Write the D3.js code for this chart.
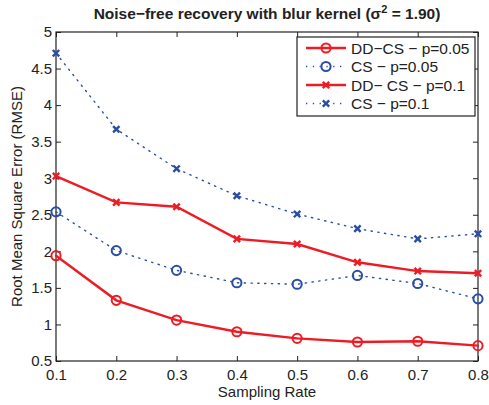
<!DOCTYPE html>
<html><head><meta charset="utf-8">
<script src="https://cdn.jsdelivr.net/npm/d3@7"></script>
<style>body{margin:0;background:#fff}svg{display:block}text{font-family:"Liberation Sans",Arial,sans-serif;fill:#222}</style>
</head><body><div id="c"></div>
<script>
const rates = [0.1,0.2,0.3,0.4,0.5,0.6,0.7,0.8];
const ddcs005 = [1.94,1.33,1.06,0.90,0.81,0.76,0.77,0.71];
const cs005 = [2.54,2.01,1.74,1.57,1.55,1.67,1.56,1.35];
const ddcs01 = [3.03,2.67,2.61,2.17,2.10,1.85,1.73,1.70];
const cs01 = [4.71,3.67,3.13,2.76,2.51,2.31,2.17,2.24];
const xTicks = [0.1,0.2,0.3,0.4,0.5,0.6,0.7,0.8];
const yTicks = [0.5,1,1.5,2,2.5,3,3.5,4,4.5,5];
const seriesNames = ["DD\u2212CS \u2212 p=0.05","CS \u2212 p=0.05","DD\u2212 CS \u2212 p=0.1","CS \u2212 p=0.1"];

const W=489,H=405, m={l:56,r:11,t:32,b:44};
const svg=d3.select("#c").append("svg").attr("width",W).attr("height",H);
const x=d3.scaleLinear().domain([0.1,0.8]).range([m.l,W-m.r]);
const y=d3.scaleLinear().domain([0.5,5]).range([H-m.b,m.t]);
const RED="#ed1c24", BLUE="#2b4ea3";

const series=[
 {name:seriesNames[0],vals:ddcs005,color:RED,dash:null,w:2.4,mk:"o"},
 {name:seriesNames[1],vals:cs005,color:BLUE,dash:"1.3,5.5",w:1.4,mk:"o"},
 {name:seriesNames[2],vals:ddcs01,color:RED,dash:null,w:2.4,mk:"x"},
 {name:seriesNames[3],vals:cs01,color:BLUE,dash:"1.3,5.5",w:1.4,mk:"x"}
];

const g=svg.append("g");
const tl=5;
g.append("g").attr("transform",`translate(0,${H-m.b})`).call(d3.axisBottom(x).tickValues(xTicks).tickSize(-tl).tickPadding(8).tickFormat(d3.format(".1f")));
g.append("g").attr("transform",`translate(0,${m.t})`).call(d3.axisTop(x).tickValues(xTicks).tickSize(-tl).tickFormat(""));
g.append("g").attr("transform",`translate(${m.l},0)`).call(d3.axisLeft(y).tickValues(yTicks).tickSize(-tl).tickPadding(4).tickFormat(d=>String(d)));
g.append("g").attr("transform",`translate(${W-m.r},0)`).call(d3.axisRight(y).tickValues(yTicks).tickSize(-tl).tickFormat(""));
g.selectAll(".domain").remove();
g.selectAll(".tick line").attr("stroke","#222").attr("stroke-width",1);
g.selectAll(".tick text").style("font-size","15px").attr("fill","#222");
svg.append("rect").attr("x",m.l).attr("y",m.t).attr("width",W-m.r-m.l).attr("height",H-m.b-m.t).attr("fill","none").attr("stroke","#222").attr("stroke-width",1.2);

const line=d3.line().x((d,i)=>x(rates[i])).y(d=>y(d));
function marker(sel,type,color){
  if(type==="o"){sel.append("circle").attr("r",4.6).attr("fill","none").attr("stroke",color).attr("stroke-width",2);}
  else{const s=3.2;sel.append("path").attr("d",`M${-s},${-s}L${s},${s}M${-s},${s}L${s},${-s}`).attr("stroke",color).attr("stroke-width",2.4);}
}
series.forEach(s=>{
  svg.append("path").datum(s.vals).attr("d",line).attr("fill","none").attr("stroke",s.color).attr("stroke-width",s.w).attr("stroke-dasharray",s.dash).attr("stroke-linecap","round");
  s.vals.forEach((v,i)=>{const mg=svg.append("g").attr("transform",`translate(${x(rates[i])},${y(v)})`);marker(mg,s.mk,s.color);});
});

const lg=svg.append("g");
lg.append("rect").attr("x",297).attr("y",37).attr("width",178).attr("height",79).attr("fill","#fff").attr("stroke","#222").attr("stroke-width",1.2);
series.forEach((s,i)=>{
  const yy=48+i*18.5;
  lg.append("line").attr("x1",306).attr("x2",346).attr("y1",yy).attr("y2",yy).attr("stroke",s.color).attr("stroke-width",s.w).attr("stroke-dasharray",s.dash);
  const mg=lg.append("g").attr("transform",`translate(326,${yy})`);marker(mg,s.mk,s.color);
  lg.append("text").attr("x",351).attr("y",yy+5.5).style("font-size","15.5px").text(s.name);
});

const title=svg.append("text").attr("x",(m.l+W-m.r)/2).attr("y",19).attr("text-anchor","middle").style("font-size","15.5px").style("font-weight","bold");
title.append("tspan").text("Noise\u2212free recovery with blur kernel (\u03c3");
title.append("tspan").attr("dy",-6).style("font-size","11px").text("2");
title.append("tspan").attr("dy",6).text(" = 1.90)");
svg.append("text").attr("x",(m.l+W-m.r)/2).attr("y",397).attr("text-anchor","middle").style("font-size","15px").text("Sampling Rate");
svg.append("text").attr("transform",`translate(22,${(m.t+H-m.b)/2}) rotate(-90)`).attr("text-anchor","middle").style("font-size","15px").text("Root Mean Square Error (RMSE)");
</script></body></html>
